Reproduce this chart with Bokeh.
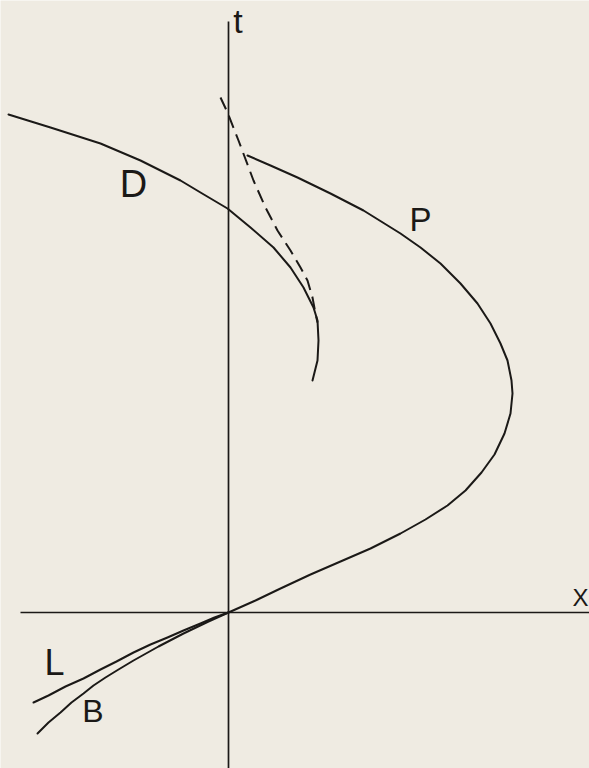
from bokeh.plotting import figure
from bokeh.models import Range1d, ColumnDataSource
from bokeh.embed import file_html
from bokeh.resources import INLINE
from bokeh.core.properties import value

# Curve P (from its upper end down to the origin)
p_x = [0.19, 0.42, 0.69, 1.02, 1.35, 1.72, 1.92, 2.12, 2.32, 2.49, 2.62, 2.72,
       2.79, 2.83, 2.84, 2.82, 2.76, 2.66, 2.53, 2.37, 2.19, 1.97, 1.72, 1.42,
       1.12, 0.82, 0.52, 0.27, 0.0]
p_t = [4.57, 4.47, 4.35, 4.19, 4.02, 3.79, 3.65, 3.49, 3.29, 3.09, 2.89, 2.69,
       2.52, 2.32, 2.19, 1.99, 1.79, 1.58, 1.40, 1.22, 1.07, 0.93, 0.79, 0.64,
       0.51, 0.38, 0.24, 0.12, 0.0]

# Curve D
d_x = [-2.20, -1.78, -1.28, -0.88, -0.48, -0.28, -0.01, 0.22, 0.45, 0.62, 0.75,
       0.85, 0.89, 0.90, 0.89, 0.84]
d_t = [4.98, 4.85, 4.69, 4.52, 4.32, 4.20, 4.04, 3.85, 3.65, 3.45, 3.25,
       3.05, 2.92, 2.72, 2.52, 2.32]

# Dashed curve
dash_x = [-0.08, -0.01, 0.10, 0.25, 0.37, 0.49, 0.62, 0.72, 0.79, 0.84, 0.87, 0.89]
dash_t = [5.15, 5.00, 4.72, 4.32, 4.05, 3.82, 3.62, 3.45, 3.32, 3.15, 2.99, 2.90]

# Curve L
l_x = [0.0, -0.14, -0.28, -0.45, -0.61, -0.78, -0.95, -1.12, -1.28, -1.45,
       -1.63, -1.80, -1.95]
l_t = [0.0, -0.05, -0.11, -0.18, -0.25, -0.32, -0.40, -0.49, -0.57, -0.66,
       -0.74, -0.83, -0.90]

# Curve B
b_x = [0.0, -0.20, -0.45, -0.70, -0.95, -1.10, -1.23, -1.35, -1.45, -1.57,
       -1.68, -1.80, -1.91]
b_t = [0.0, -0.09, -0.21, -0.34, -0.48, -0.57, -0.65, -0.73, -0.81, -0.90,
       -1.00, -1.10, -1.21]

# Axes extents
x_axis_x = [-2.08, 3.65]
x_axis_t = [0.0, 0.0]
t_axis_x = [0.0, 0.0]
t_axis_t = [5.91, -1.70]

# Labels
label_text = ["D", "P", "L", "B", "X", "t"]
label_x = [-0.95, 1.92, -1.74, -1.355, 3.52, 0.095]
label_t = [4.29, 3.93, -0.50, -0.98, 0.15, 5.92]
label_size = ["38px", "33px", "36px", "32px", "24px", "34px"]

BG = "#efebe2"
INK = "#1b1917"

p = figure(width=589, height=768, output_backend="svg", toolbar_location=None,
           x_range=Range1d(-2.28, 3.61), y_range=Range1d(-1.56, 6.12),
           x_axis_type=None, y_axis_type=None, min_border=0,
           background_fill_color=BG, border_fill_color=BG,
           outline_line_color=None)
p.grid.visible = False

p.line(x_axis_x, x_axis_t, line_color=INK, line_width=1.7)
p.line(t_axis_x, t_axis_t, line_color=INK, line_width=1.7)

for xs, ts in [(p_x, p_t), (d_x, d_t), (l_x, l_t), (b_x, b_t)]:
    p.line(xs, ts, line_color=INK, line_width=2.0, line_join="round", line_cap="round")

p.line(dash_x, dash_t, line_color=INK, line_width=2.0, line_dash="13 7")

src = ColumnDataSource(dict(x=label_x, y=label_t, text=label_text, size=label_size))
p.text(x="x", y="y", text="text", source=src, text_font=value("Liberation Sans"),
       text_font_size="size", text_color=INK, text_align="center",
       text_baseline="alphabetic")

open("out.html", "w").write(file_html(p, INLINE))
